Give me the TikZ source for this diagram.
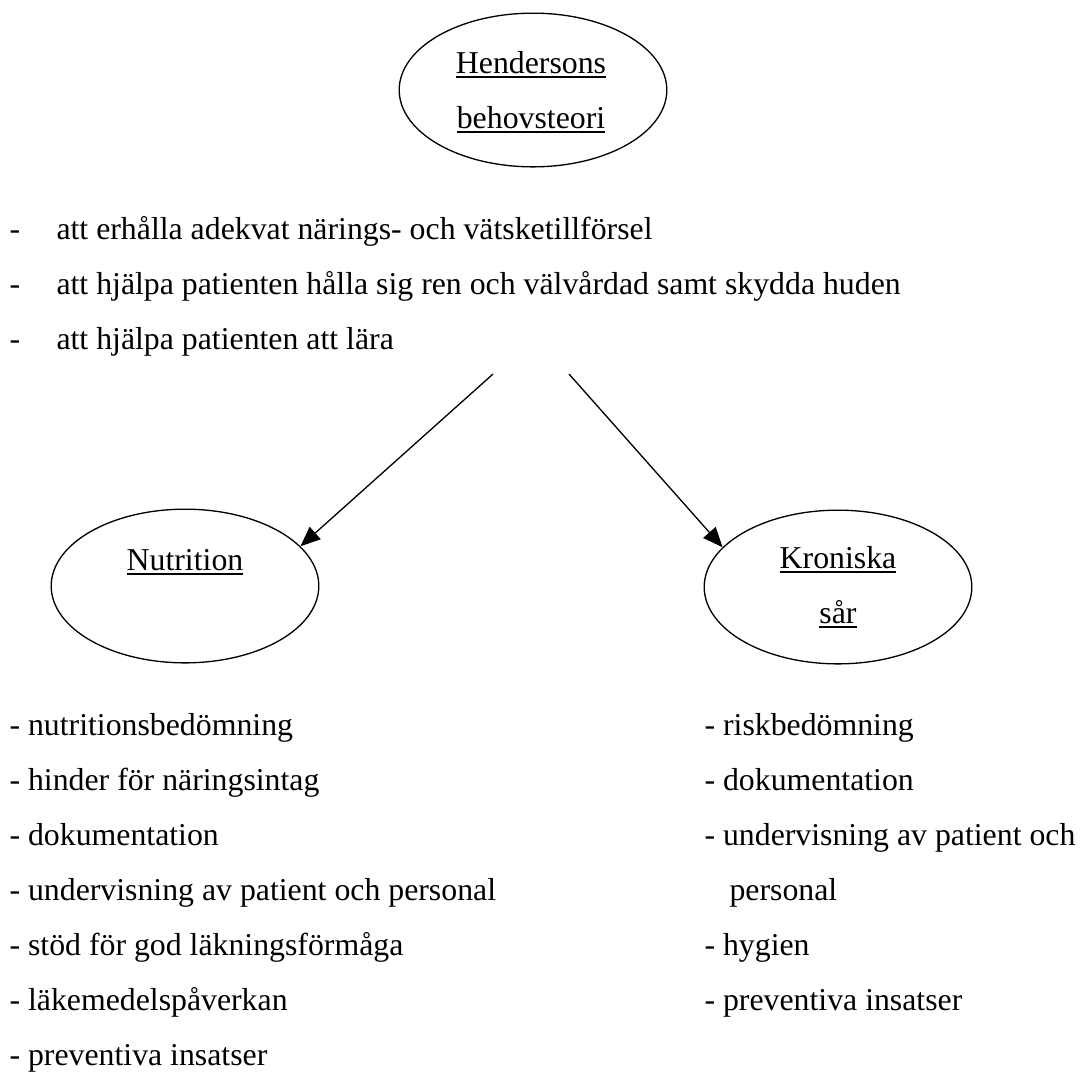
\documentclass[tikz,border=0pt]{standalone}
\usepackage{fontspec}
\setmainfont{Liberation Serif}
\usetikzlibrary{arrows.meta, positioning, shapes.geometric}
\newcommand{\streckad}[1]{\vtop{\hbox{#1}\kern1.1pt\hrule height 0.6pt}}

\begin{document}
\begin{tikzpicture}[x=0.3774pt, y=-0.3774pt,
  behov/.style={draw, ellipse, line width=0.5pt, minimum width=101pt, minimum height=58pt, inner sep=0pt},
  rad/.style={anchor=base west, inner sep=0pt, font=\fontsize{12}{14}\selectfont},
  rubrik/.style={anchor=base, inner sep=0pt, font=\fontsize{12}{14}\selectfont},
  pil/.style={-{Triangle[length=7.5pt,width=6.2pt]}, line width=0.5pt}]
  \path[use as bounding box, fill=white] (0,0) rectangle (1080,1072);
  % ellipser
  \node[behov] (teori) at (533,90) {};
  \node[behov] (nutr) at (185,586) {};
  \node[behov] (sar) at (838,587) {};
  \node[rubrik] (teori1) at (531,73) {\streckad{Hendersons}};
  \node[rubrik] (teori2) at (531,128) {\streckad{behovsteori}};
  \node[rubrik] (nutr1) at (185,570) {\streckad{Nutrition}};
  \node[rubrik] (sar1) at (838,568) {\streckad{Kroniska}};
  \node[rubrik] (sar2) at (838,623) {\streckad{sår}};
  % behov enligt Henderson
  \foreach \t [count=\i from 0] in {att erhålla adekvat närings- och vätsketillförsel,
      att hjälpa patienten hålla sig ren och välvårdad samt skydda huden,
      att hjälpa patienten att lära} {
    \node[rad] (streck\i) at (9,{239+55*\i}) {-};
    \node[rad] (behov\i) at (56,{239+55*\i}) {\t};
  }
  % pilar
  \coordinate (start1) at (493,374);
  \coordinate (start2) at (569,374);
  \draw[pil] (start1) -- (nutr.19);
  \draw[pil] (start2) -- (sar.161);
  % nutrition
  \foreach \t [count=\i from 0] in {nutritionsbedömning, hinder för näringsintag,
      dokumentation, undervisning av patient och personal,
      stöd för god läkningsförmåga, läkemedelspåverkan, preventiva insatser}
    \node[rad] (nutrrad\i) at (9,{735+55*\i}) {- \t};
  % kroniska sår
  \foreach \t/\i in {riskbedömning/0, dokumentation/1, undervisning av patient och/2,
      hygien/4, preventiva insatser/5}
    \node[rad] (sarrad\i) at (704,{735+55*\i}) {- \t};
  \node[rad] (sarrad3) at (729,900) {personal};
\end{tikzpicture}
\end{document}
